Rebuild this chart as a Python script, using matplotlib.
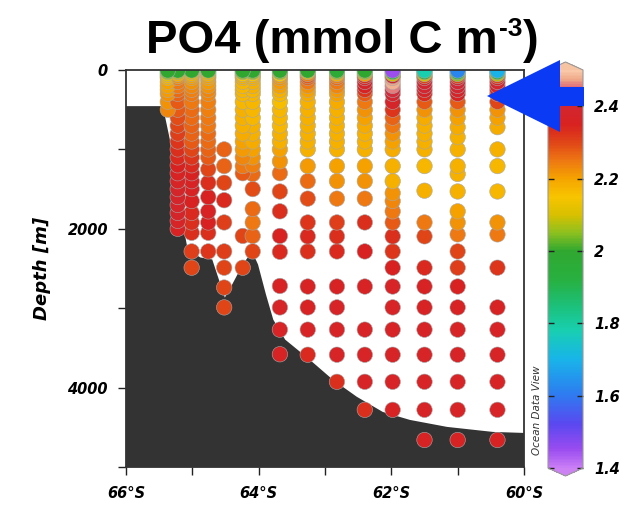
import matplotlib
matplotlib.use("Agg")
import matplotlib.pyplot as plt
import numpy as np
from matplotlib.colors import LinearSegmentedColormap, Normalize
from matplotlib.patches import Polygon
from matplotlib.ticker import FixedLocator
from matplotlib.cm import ScalarMappable

plt.rcParams["font.family"] = ["DejaVu Sans"]

# ---- bathymetry (lat, depth m)
bathy_lat = [-66.0, -65.47, -65.41, -65.34, -65.26, -65.17, -65.07, -64.88, -64.70,
             -64.60, -64.51, -64.40, -64.24, -64.10, -64.01, -63.89, -63.78, -63.60,
             -63.23, -62.88, -62.52, -62.13, -61.72, -61.16, -60.47, -60.0]
bathy_depth = [455, 455, 593, 871, 1313, 1818, 2260, 2361, 2386,
               2639, 2866, 2702, 2449, 2285, 2449, 2828, 3144, 3396,
               3649, 3902, 4116, 4306, 4407, 4495, 4558, 4571]

# ---- stations: latitude, sample depths (m), PO4
station_lat = [-65.37, -65.22, -65.01, -64.76, -64.52, -64.24, -64.09,
               -63.68, -63.26, -62.82, -62.40, -61.98, -61.50, -61.00, -60.40]

a_depth = [5, 25, 50, 75, 100, 150, 200, 250, 300, 400, 500]
a_po4 = [2.00, 2.05, 2.12, 2.17, 2.18, 2.20, 2.20, 2.21, 2.22, 2.22, 2.23]

b_depth = [5, 25, 50, 75, 100, 150, 200, 250, 300, 400, 500, 600, 700, 800, 900,
           1000, 1100, 1200, 1300, 1400, 1500, 1600, 1700, 1800, 1900, 2000]
b_po4 = [2.00, 2.08, 2.18, 2.22, 2.24, 2.25, 2.25, 2.26, 2.27, 2.28, 2.28, 2.29, 2.30,
         2.31, 2.32, 2.33, 2.34, 2.35, 2.36, 2.37, 2.38, 2.38, 2.38, 2.38, 2.37, 2.36]

c_depth = [5, 25, 50, 75, 100, 150, 200, 250, 300, 400, 500, 600, 700, 800, 900,
           1000, 1100, 1200, 1300, 1400, 1500, 1650, 1800, 1920, 2050, 2285, 2490]
c_po4 = [2.00, 2.10, 2.18, 2.20, 2.21, 2.22, 2.23, 2.24, 2.25, 2.25, 2.26, 2.26, 2.27,
         2.27, 2.28, 2.30, 2.32, 2.34, 2.35, 2.36, 2.36, 2.35, 2.34, 2.33, 2.33, 2.31, 2.30]

d_depth = [5, 25, 50, 75, 100, 150, 200, 250, 300, 400, 500, 600, 700, 800, 900,
           1000, 1100, 1250, 1420, 1600, 1780, 1920, 2050, 2285]
d_po4 = [2.00, 2.10, 2.18, 2.20, 2.20, 2.21, 2.22, 2.23, 2.23, 2.24, 2.24, 2.25, 2.25,
         2.26, 2.26, 2.27, 2.28, 2.30, 2.33, 2.35, 2.36, 2.35, 2.33, 2.32]

e_depth = [1000, 1210, 1420, 1640, 1920, 2285, 2490, 2740, 2990]
e_po4 = [2.27, 2.27, 2.30, 2.34, 2.31, 2.31, 2.30, 2.30, 2.30]

f_depth = [5, 25, 50, 75, 100, 150, 200, 250, 300, 400, 500, 600, 700, 800, 900,
           1000, 1100, 1210, 1300, 2090, 2490]
f_po4 = [2.00, 2.05, 2.15, 2.18, 2.18, 2.17, 2.17, 2.17, 2.17, 2.17, 2.18, 2.18, 2.18,
         2.19, 2.20, 2.21, 2.23, 2.25, 2.28, 2.30, 2.30]

g_depth = [5, 25, 50, 75, 100, 150, 200, 250, 300, 400, 500, 600, 700, 800, 900,
           1000, 1100, 1200, 1310, 1500, 1750, 1920, 2090, 2285]
g_po4 = [2.00, 2.05, 2.15, 2.18, 2.18, 2.18, 2.18, 2.17, 2.17, 2.17, 2.17, 2.17, 2.18,
         2.18, 2.19, 2.20, 2.22, 2.24, 2.26, 2.29, 2.26, 2.25, 2.27, 2.30]

h_depth = [5, 25, 50, 75, 100, 150, 200, 250, 300, 400, 500, 600, 700, 800, 900,
           1000, 1150, 1300, 1530, 1780, 2090, 2290, 2720, 2990, 3270, 3580]
h_po4 = [2.00, 2.05, 2.15, 2.21, 2.22, 2.21, 2.20, 2.18, 2.17, 2.16, 2.17, 2.17, 2.17,
         2.18, 2.18, 2.20, 2.22, 2.26, 2.30, 2.33, 2.35, 2.34, 2.36, 2.37, 2.37, 2.36]

i_depth = [5, 25, 50, 75, 100, 150, 200, 250, 300, 400, 500, 600, 700, 800, 900,
           1000, 1210, 1400, 1620, 1920, 2095, 2285, 2727, 2990, 3270, 3586]
i_po4 = [2.00, 2.10, 2.24, 2.28, 2.27, 2.25, 2.22, 2.20, 2.19, 2.18, 2.18, 2.18, 2.18,
         2.18, 2.18, 2.18, 2.21, 2.26, 2.29, 2.32, 2.34, 2.33, 2.36, 2.36, 2.37, 2.34]

j_depth = [5, 25, 50, 75, 100, 150, 200, 250, 300, 400, 500, 600, 700, 800, 900,
           1000, 1210, 1400, 1620, 1920, 2095, 2285, 2727, 2990, 3270, 3586, 3927]
j_po4 = [1.97, 2.05, 2.18, 2.24, 2.26, 2.25, 2.23, 2.21, 2.20, 2.19, 2.18, 2.18, 2.18,
         2.18, 2.18, 2.18, 2.20, 2.22, 2.25, 2.31, 2.33, 2.34, 2.36, 2.37, 2.37, 2.37, 2.33]

k_depth = [5, 25, 50, 75, 100, 150, 200, 250, 300, 400, 500, 600, 700, 800, 900,
           1000, 1210, 1400, 1620, 1920, 2285, 2727, 3270, 3586, 3927, 4280]
k_po4 = [2.00, 2.05, 2.20, 2.33, 2.38, 2.38, 2.36, 2.32, 2.28, 2.25, 2.22, 2.20, 2.19,
         2.18, 2.18, 2.18, 2.20, 2.22, 2.25, 2.33, 2.35, 2.36, 2.37, 2.37, 2.37, 2.33]

l_depth = [5, 25, 50, 75, 100, 150, 200, 250, 300, 400, 500, 600, 700, 800, 900,
           1000, 1210, 1400, 1550, 1650, 1780, 1920, 2095, 2285, 2490, 2727, 2990,
           3270, 3586, 3927, 4280]
l_po4 = [1.45, 1.90, 2.10, 2.40, 2.47, 2.48, 2.46, 2.42, 2.40, 2.38, 2.32, 2.27, 2.25,
         2.22, 2.20, 2.19, 2.18, 2.18, 2.22, 2.23, 2.25, 2.28, 2.33, 2.32, 2.35, 2.37,
         2.37, 2.37, 2.37, 2.37, 2.36]

m_depth = [5, 25, 50, 75, 100, 150, 200, 250, 300, 400, 500, 600, 700, 800, 900,
           1000, 1210, 1520, 1920, 2095, 2490, 2727, 2990, 3270, 3586, 3927, 4280, 4660]
m_po4 = [1.78, 1.95, 2.10, 2.30, 2.38, 2.40, 2.40, 2.38, 2.34, 2.28, 2.22, 2.19, 2.18,
         2.18, 2.18, 2.18, 2.17, 2.18, 2.25, 2.30, 2.34, 2.36, 2.36, 2.37, 2.37, 2.37,
         2.37, 2.36]

n_depth = [5, 25, 50, 75, 100, 150, 200, 250, 300, 400, 500, 600, 720, 846, 1000,
           1210, 1310, 1530, 1780, 1920, 2070, 2285, 2490, 2727, 2990, 3270, 3586,
           3927, 4280, 4660]
n_po4 = [1.62, 1.90, 2.05, 2.30, 2.40, 2.41, 2.40, 2.38, 2.36, 2.28, 2.22, 2.20, 2.19,
         2.18, 2.18, 2.18, 2.18, 2.18, 2.20, 2.22, 2.25, 2.30, 2.31, 2.35, 2.36, 2.37,
         2.37, 2.37, 2.37, 2.36]

o_depth = [5, 25, 50, 75, 100, 150, 200, 250, 300, 400, 500, 600, 720, 1000, 1210,
           1530, 1920, 2070, 2490, 2990, 3270, 3586, 3927, 4280, 4660]
o_po4 = [1.70, 1.92, 2.08, 2.30, 2.38, 2.39, 2.38, 2.37, 2.34, 2.30, 2.22, 2.20, 2.19,
         2.18, 2.17, 2.17, 2.22, 2.25, 2.32, 2.36, 2.37, 2.37, 2.37, 2.37, 2.36]

station_depths = [a_depth, b_depth, c_depth, d_depth, e_depth, f_depth, g_depth, h_depth,
                  i_depth, j_depth, k_depth, l_depth, m_depth, n_depth, o_depth]
station_po4 = [a_po4, b_po4, c_po4, d_po4, e_po4, f_po4, g_po4, h_po4,
               i_po4, j_po4, k_po4, l_po4, m_po4, n_po4, o_po4]

# ---- colour scale (ODV-like rainbow)
cmap_vals = [1.40, 1.45, 1.52, 1.60, 1.70, 1.78, 1.85, 1.92, 2.00, 2.05, 2.10, 2.15,
             2.20, 2.25, 2.30, 2.35, 2.42, 2.455, 2.475, 2.50]
cmap_cols = ["#c87cf5", "#9a4cf0", "#5a48f0", "#2f7af0", "#18b4ea", "#18cfb0",
             "#1cc078", "#28b040", "#30a830", "#8cc020", "#d8c000", "#f8c400",
             "#f5a400", "#ee7812", "#e04618", "#d82220", "#d02838", "#e06878",
             "#f0a888", "#f8c8a8"]
vmin, vmax = 1.4, 2.5
cbar_ticks = [1.4, 1.6, 1.8, 2.0, 2.2, 2.4]
cbar_labels = ["1.4", "1.6", "1.8", "2", "2.2", "2.4"]

xticks = [-66, -64, -62, -60]
xtick_labels = ["66°S", "64°S", "62°S", "60°S"]
yticks = [0, 2000, 4000]
ytick_labels = ["0", "2000", "4000"]

W, H = 638, 507
fig = plt.figure(figsize=(W / 100, H / 100), dpi=100)

pos = [(v - vmin) / (vmax - vmin) for v in cmap_vals]
cmap = LinearSegmentedColormap.from_list("odv", list(zip(pos, cmap_cols)))
cmap.set_over("#f6c4a2")
cmap.set_under("#cc82f2")
norm = Normalize(vmin=vmin, vmax=vmax)

ax = fig.add_axes([126 / W, 1 - 467 / H, 398 / W, 397 / H])
ax.set_xlim(-66, -60)
ax.set_ylim(5000, 0)

# bathymetry
poly_x = bathy_lat + [-60.0, -66.0]
poly_y = bathy_depth + [5000, 5000]
ax.fill(poly_x, poly_y, color="#333333", zorder=1, lw=0)

# sample dots, deepest first so shallow ones sit on top
xs, ys, cs = [], [], []
for lat, dep, val in zip(station_lat, station_depths, station_po4):
    for d, v in zip(dep, val):
        xs.append(lat)
        ys.append(d)
        cs.append(v)
order = np.argsort(ys)[::-1]
xs = np.array(xs)[order]
ys = np.array(ys)[order]
cs = np.array(cs)[order]
ax.scatter(xs, ys, c=cs, cmap=cmap, norm=norm, s=124, edgecolors="#a8a8a8",
           linewidths=0.4, zorder=2)

tick_font = dict(fontweight="bold", fontstyle="italic", fontsize=10.5)
ax.xaxis.set_major_locator(FixedLocator(xticks))
ax.xaxis.set_minor_locator(FixedLocator([-65, -63, -61]))
ax.set_xticklabels(xtick_labels, **tick_font)
ax.yaxis.set_major_locator(FixedLocator(yticks))
ax.yaxis.set_minor_locator(FixedLocator([1000, 3000, 5000]))
ax.set_yticklabels(ytick_labels, **tick_font)
ax.tick_params(which="both", direction="out", length=6, width=1, color="#222222")
ax.tick_params(axis="x", pad=8)
ax.tick_params(axis="y", pad=7)
for sp in ax.spines.values():
    sp.set_color("#333333")
    sp.set_linewidth(1.3)
ax.set_ylabel("Depth [m]", fontsize=13, fontweight="bold", fontstyle="italic",
              labelpad=12)

fig.text(537 / W, 1 - 410 / H, "Ocean Data View", rotation=90, fontsize=7.5,
         fontstyle="italic", color="#333333", ha="center", va="center")

# colorbar
cax = fig.add_axes([548 / W, 1 - 476 / H, 35 / W, 414 / H])
sm = ScalarMappable(norm=norm, cmap=cmap)
cb = fig.colorbar(sm, cax=cax, extend="both", extendfrac=0.02, ticks=cbar_ticks)
cb.ax.set_yticklabels(cbar_labels, **tick_font)
cb.ax.tick_params(direction="in", length=4, width=1, left=True, right=True,
                  color="#222222", pad=8)
cb.outline.set_edgecolor("#999999")
cb.outline.set_linewidth(0.8)

# title: main part, small raised "-3", closing bracket
title_font = dict(fontweight="bold", family="Liberation Sans")
t1 = fig.text(146 / W, 1 - 53 / H, "PO4 (mmol C m", fontsize=34,
              ha="left", va="baseline", **title_font)
t2 = fig.text(0, 0, "-3", fontsize=19, ha="left", va="top", **title_font)
t3 = fig.text(0, 0, ")", fontsize=34, ha="left", va="baseline", **title_font)
fig.canvas.draw()
r = fig.canvas.get_renderer()
bb1 = t1.get_window_extent(r)
t2.set_position(((bb1.x1 + 1) / W, 1 - 17 / H))
fig.canvas.draw()
bb2 = t2.get_window_extent(r)
t3.set_position(((bb2.x1 + 1) / W, 1 - 53 / H))

# blue arrow pointing at the top of the colour bar
arrow_px = [(487, 96), (560, 60), (560, 87), (584, 87), (584, 106),
            (560, 106), (560, 132)]
arrow = Polygon([(x / W, 1 - y / H) for x, y in arrow_px], closed=True,
                transform=fig.transFigure, facecolor="#0b3af5", edgecolor="none",
                zorder=10)
fig.patches.append(arrow)

fig.savefig("out.png", dpi=100)
